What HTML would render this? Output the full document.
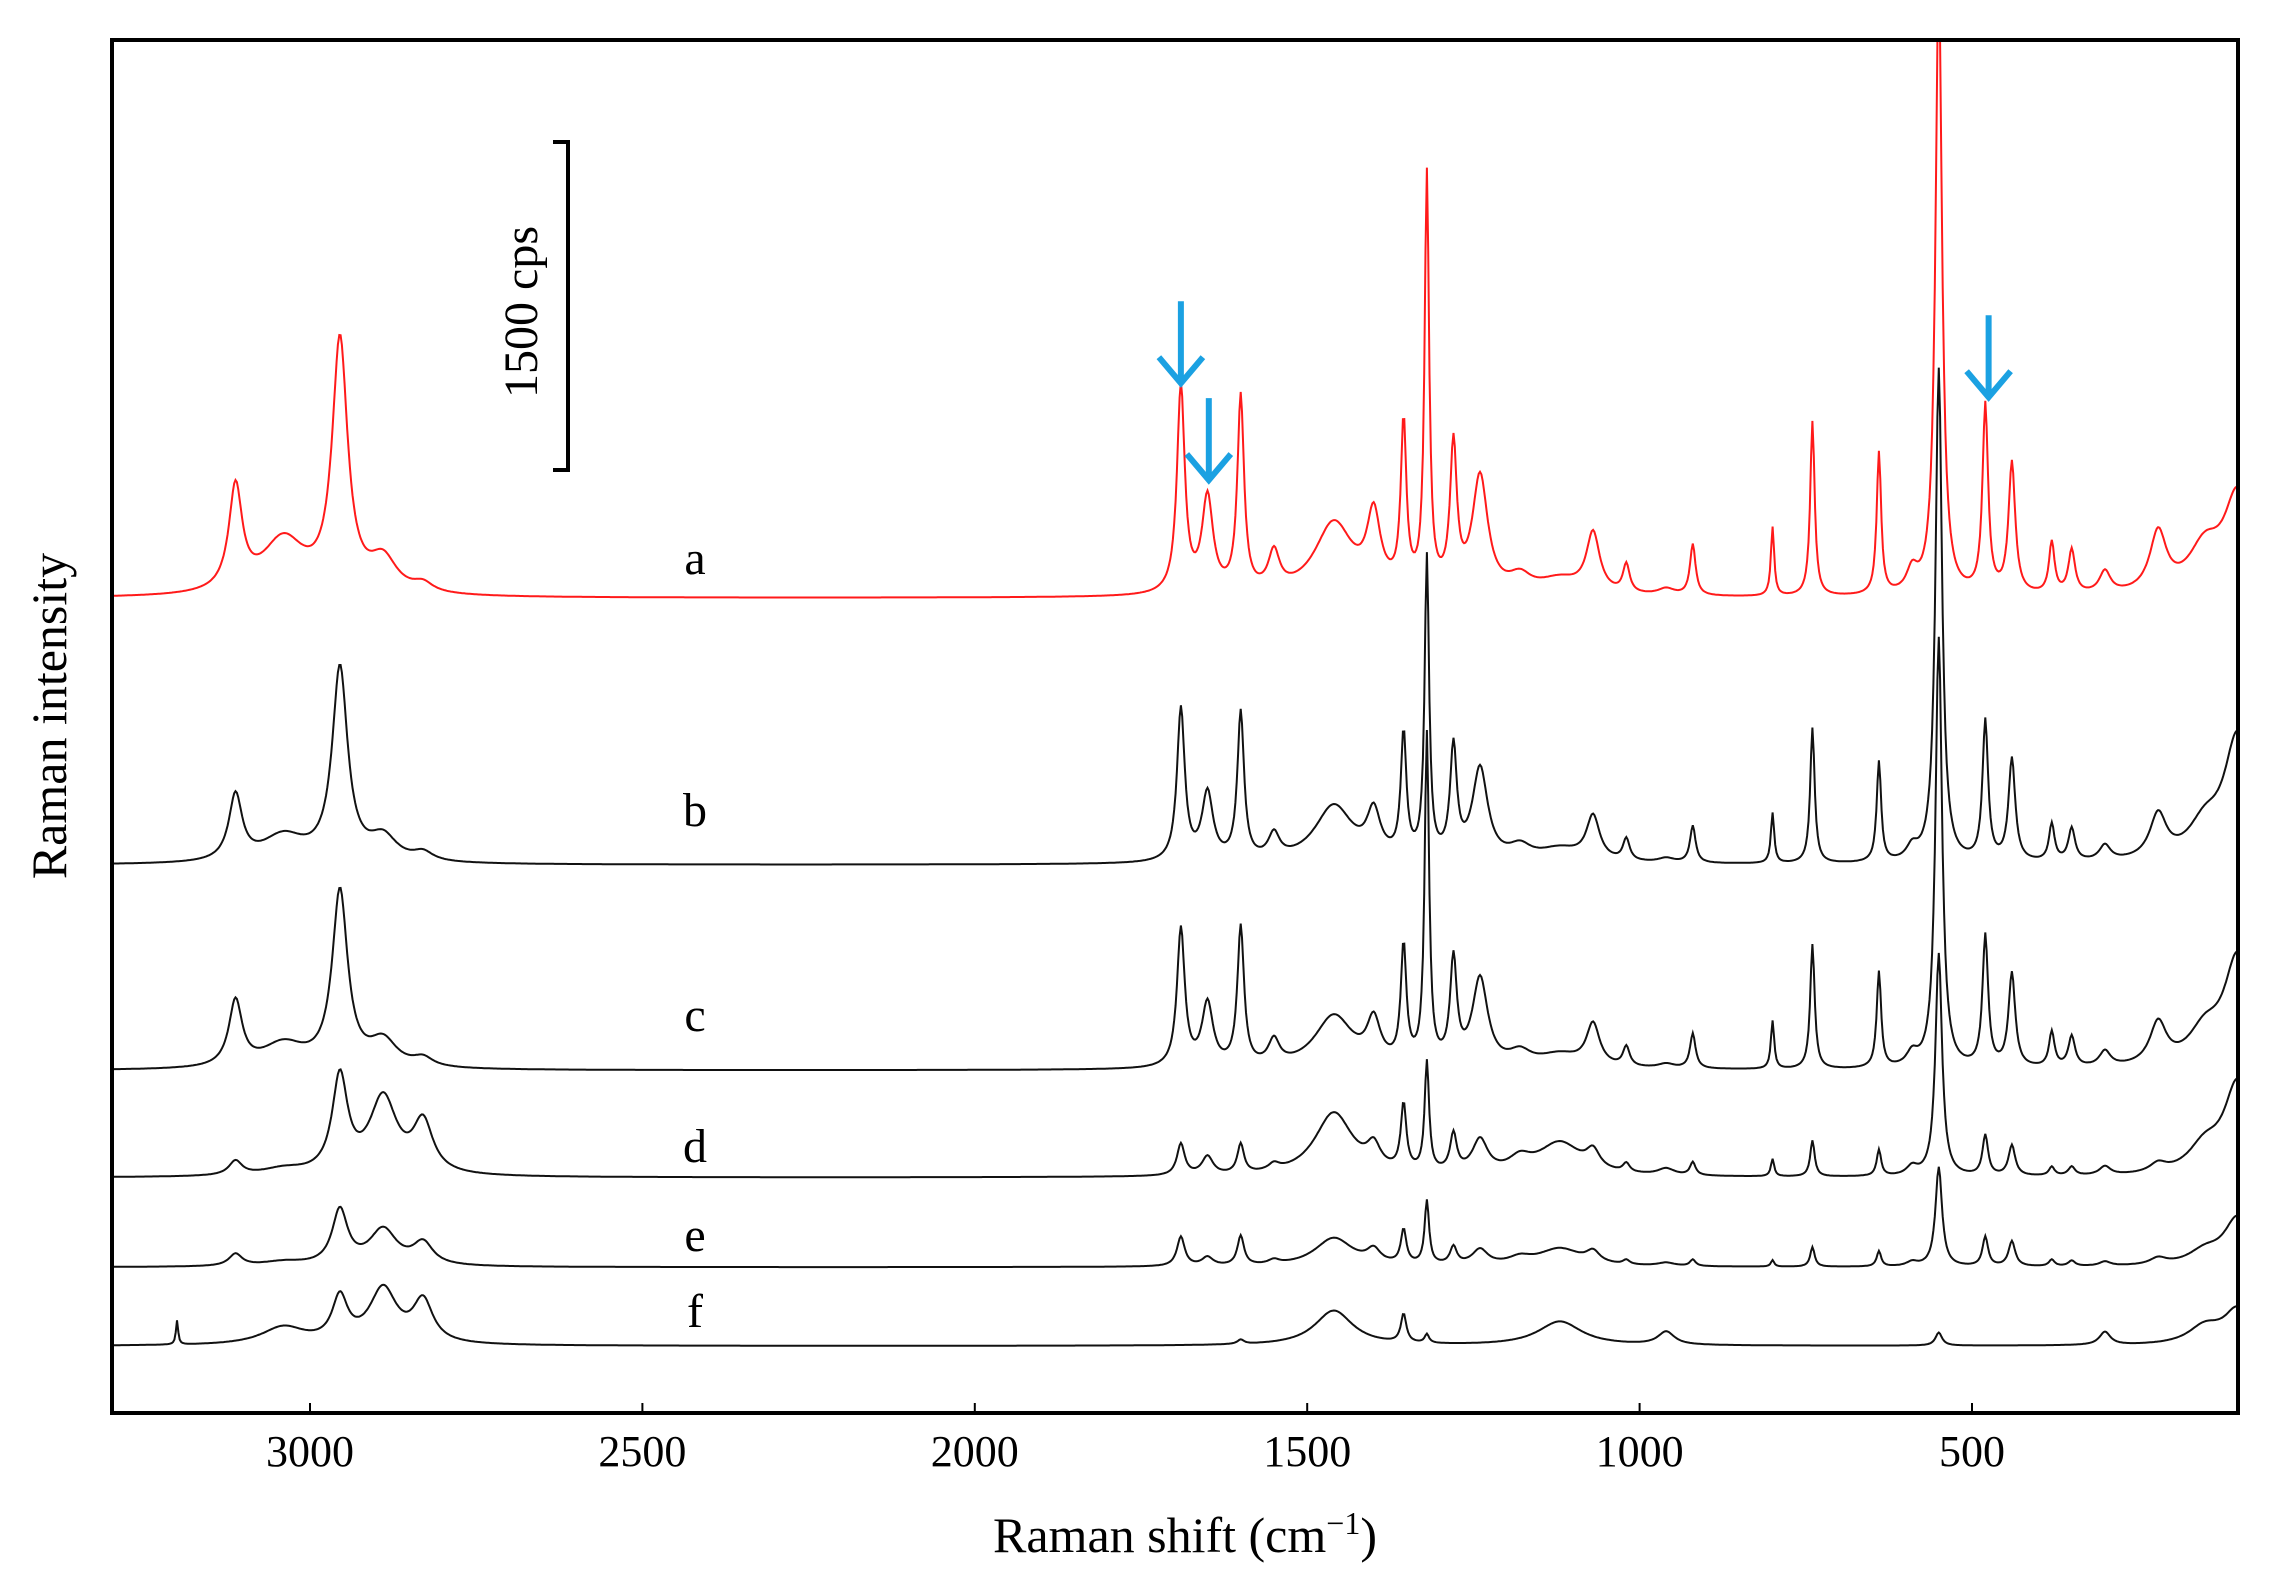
<!DOCTYPE html>
<html><head><meta charset="utf-8"><style>
html,body{margin:0;padding:0;background:#fff;}
svg{display:block;font-family:"Liberation Serif",serif;}
</style></head><body>
<svg id="chart" width="2278" height="1577" viewBox="0 0 2278 1577">
<defs><clipPath id="plotclip"><rect x="112" y="40" width="2126" height="1373"/></clipPath></defs>
<g id="spectra" clip-path="url(#plotclip)"></g>
<rect x="112" y="40" width="2126" height="1373" fill="none" stroke="#000" stroke-width="4"/>
<g id="xticks"></g>
<text x="1185" y="1552" font-size="50" text-anchor="middle">Raman shift (cm<tspan font-size="32" dy="-18">−1</tspan><tspan dy="18">)</tspan></text>
<text x="0" y="0" font-size="50" text-anchor="middle" transform="translate(66,716) rotate(-90)">Raman intensity</text>
<g>
<path d="M553 142 H568 V470 H553" fill="none" stroke="#000" stroke-width="4"/>
<text x="0" y="0" font-size="48" text-anchor="middle" transform="translate(537,312) rotate(-90)">1500 cps</text>
</g>
<g id="labels" font-size="48"></g>
<g id="arrows"></g>
</svg>
<script>
const peakPos = [3200,3112,3040,2955,2890,2830,1690,1650,1600,1550,1460,1400,1355,1320,1280,1240,1180,1120,1070,1020,960,920,800,740,640,590,550,480,440,380,350,300,220,150,100];
const peakWidth = [2,12,40,14,25,18,7,10,6,10,35,12,5,4,6,14,20,40,12,6,15,5,3,4,4,10,6,5,6,5,6,10,15,30,25];
const seriesA = [0,470,250,1140,150,40,950,435,890,170,330,330,750,1890,650,530,70,70,270,130,30,235,315,800,650,100,2800,860,600,235,200,100,270,200,450];
const seriesB = [0,300,120,880,110,40,700,310,675,110,260,200,560,1370,500,420,60,60,200,100,20,170,230,620,460,60,2260,640,470,170,150,70,200,150,570];
const seriesC = [0,300,110,800,120,40,635,290,635,110,240,190,530,1500,470,400,60,60,190,90,20,160,220,570,440,60,1970,600,430,160,140,70,190,150,500];
const seriesD = [0,65,30,440,350,230,145,85,135,30,290,100,300,500,170,150,60,150,80,40,30,60,80,165,120,40,1020,185,140,40,40,40,40,120,420];
const seriesE = [0,55,20,250,165,100,135,40,135,20,130,60,155,290,80,70,30,80,50,20,15,30,30,90,70,20,455,135,115,30,25,20,30,60,220];
const seriesF = [110,0,80,200,250,190,0,0,20,0,160,0,130,40,0,0,0,110,0,0,60,0,0,0,0,0,60,0,0,0,0,60,0,80,160];
const seriesNames = ["a","b","c","d","e","f"];
const seriesOffsetCps = [3060,1840,900,410,0,-360];
const xTicks = [3000,2500,2000,1500,1000,500];
const arrowPeaks = [1690,1648,475];
const arrowTipCps = [4043,3600,3979];

const NS="http://www.w3.org/2000/svg";
const X0=310, PXW=0.6648;
function xs(v){return X0+(3000-v)*PXW;}
const Y0=1346, PXC=328/1500;
function ys(c){return Y0-(c+360)*PXC;}
const allSeries=[seriesA,seriesB,seriesC,seriesD,seriesE,seriesF];
const colors=["#ff1a1a","#111","#111","#111","#111","#111"];
const g=document.getElementById('spectra');
allSeries.forEach((s,i)=>{
  let d="";
  for(let v=3300; v>=100; v-=2){
    let sum=0;
    for(let k=0;k<peakPos.length;k++){const w=peakWidth[k],dv=v-peakPos[k];sum+=s[k]*w*w/(dv*dv+w*w);}
    const x=xs(v), y=ys(seriesOffsetCps[i]+sum);
    d+=(d?"L":"M")+x.toFixed(1)+" "+y.toFixed(1);
  }
  const p=document.createElementNS(NS,'path');
  p.setAttribute('d',d);p.setAttribute('fill','none');p.setAttribute('stroke',colors[i]);p.setAttribute('stroke-width','2');
  
  
  g.appendChild(p);
});
const lbl=document.getElementById('labels');
const lblY=[558,810,1015,1146,1235,1311];
seriesNames.forEach((n,i)=>{
  const t=document.createElementNS(NS,'text');
  t.setAttribute('x','695');t.setAttribute('y',lblY[i]+16);t.setAttribute('text-anchor','middle');t.textContent=n;
  
  
  lbl.appendChild(t);
});
const xt=document.getElementById('xticks');
xTicks.forEach(v=>{
  const l=document.createElementNS(NS,'line');
  l.setAttribute('x1',xs(v));l.setAttribute('x2',xs(v));l.setAttribute('y1',1413);l.setAttribute('y2',1403);l.setAttribute('stroke','#000');l.setAttribute('stroke-width','2');
  
  
  xt.appendChild(l);
  const t=document.createElementNS(NS,'text');
  t.setAttribute('x',xs(v));t.setAttribute('y',1466);t.setAttribute('font-size','44');t.setAttribute('text-anchor','middle');t.textContent=v;
  
  
  xt.appendChild(t);
});
const ar=document.getElementById('arrows');
arrowPeaks.forEach((v,i)=>{
  const x=xs(v), ty=ys(arrowTipCps[i]);
  const p=document.createElementNS(NS,'path');
  p.setAttribute('d',`M${x} ${ty-82} V${ty} M${x-22} ${ty-26} L${x} ${ty} L${x+22} ${ty-26}`);
  p.setAttribute('fill','none');p.setAttribute('stroke','#1ba1e2');p.setAttribute('stroke-width','6');
  
  
  ar.appendChild(p);
});
</script>
</body></html>
